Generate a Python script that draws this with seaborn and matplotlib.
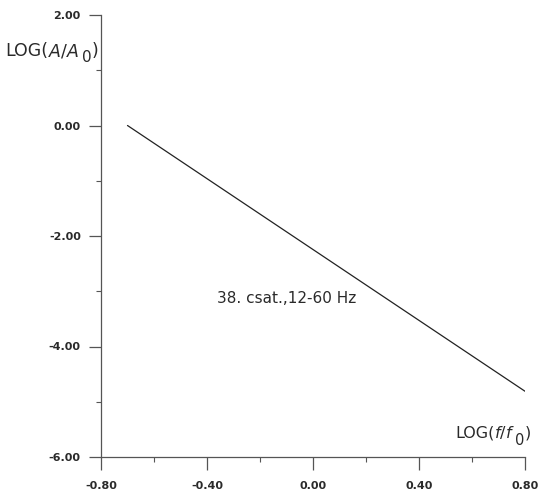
import matplotlib
matplotlib.use("Agg")
import matplotlib.pyplot as plt
import seaborn as sns
import pandas as pd
from matplotlib.ticker import MultipleLocator, FormatStrFormatter
from matplotlib.transforms import IdentityTransform

sns.set_theme(style="white")
plt.rcParams['font.family'] = ['DejaVu Sans']
plt.rcParams['mathtext.fontset'] = 'dejavusans'

log_f = [-0.70, 0.80]
log_a = [0.00, -4.81]
x_ticks = [-0.80, -0.40, 0.00, 0.40, 0.80]
y_ticks = [-6.00, -4.00, -2.00, 0.00, 2.00]
annotation = "38. csat.,12-60 Hz"

TXT = "#2a2a2a"
AX = "#555555"
W, H = 540, 495

df = pd.DataFrame({"x": log_f, "y": log_a})

fig = plt.figure(figsize=(5.4, 4.95), dpi=100)
ax = fig.add_axes([101 / W, 1 - 457 / H, 424 / W, 442 / H])
sns.lineplot(data=df, x="x", y="y", ax=ax, color="#222222", linewidth=0.9)

ax.set_xlim(-0.80, 0.80)
ax.set_ylim(-6.0, 2.0)
ax.set_xticks(x_ticks)
ax.set_yticks(y_ticks)
ax.xaxis.set_minor_locator(MultipleLocator(0.2))
ax.yaxis.set_minor_locator(MultipleLocator(1.0))
ax.xaxis.set_major_formatter(FormatStrFormatter('%.2f'))
ax.yaxis.set_major_formatter(FormatStrFormatter('%.2f'))
for side in ["top", "right"]:
    ax.spines[side].set_visible(False)
for side in ["left", "bottom"]:
    ax.spines[side].set_color(AX)
    ax.spines[side].set_linewidth(0.9)
ax.tick_params(which="major", direction="out", length=9, width=0.9, color=AX,
               labelsize=8, labelcolor=TXT, left=True, bottom=True)
ax.tick_params(axis="x", which="major", pad=8)
ax.tick_params(axis="y", which="major", pad=5.5)
ax.tick_params(which="minor", direction="out", length=3.5, width=0.8, color=AX,
               left=True, bottom=True)
for lab in ax.get_xticklabels() + ax.get_yticklabels():
    lab.set_fontweight("bold")
ax.set_xlabel("")
ax.set_ylabel("")

ax.text(-0.363, -3.21, annotation, fontsize=11, color=TXT, ha="left", va="baseline")

renderer = fig.canvas.get_renderer()


def chain(x_px, base_px, pieces):
    """Draw text pieces left to right; pieces = (text, size, drop_px, gap_px)."""
    x = x_px
    for s, size, drop, gap in pieces:
        x += gap
        t = fig.text(x, H - base_px - drop, s, fontsize=size, color=TXT,
                     ha="left", va="baseline", transform=IdentityTransform())
        bb = t.get_window_extent(renderer)
        x = bb.x1


chain(5, 56, [("LOG(", 12.5, 0, 0), (r"$\mathit{A/A}$", 12.5, 0, 0),
              ("0", 11, 6, 3), (")", 12.5, 0, 0)])
chain(455, 438, [("LOG(", 11.5, 0, 0), (r"$\mathit{f/f}$", 11.5, 0, 0),
                 ("0", 10.5, 7, 0), (")", 11.5, 0, 0)])

fig.savefig("out.png", dpi=100)
